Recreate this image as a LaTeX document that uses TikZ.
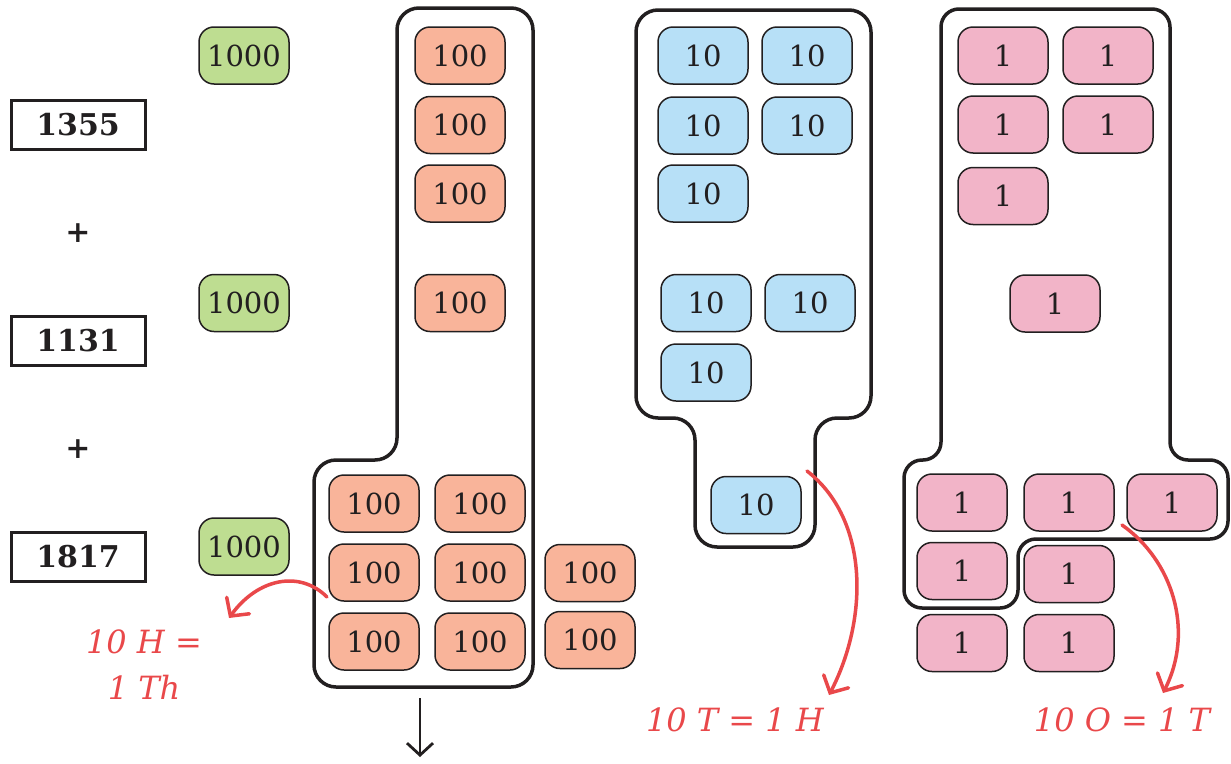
\documentclass[tikz,border=0pt]{standalone}
\usepackage{fontspec}
\setmainfont{DejaVu Serif}
\usetikzlibrary{arrows.meta}
\definecolor{tgreen}{RGB}{190,221,145}
\definecolor{tsalmon}{RGB}{249,180,154}
\definecolor{tblue}{RGB}{183,224,247}
\definecolor{tpink}{RGB}{242,180,200}
\definecolor{ink}{RGB}{34,31,32}
\definecolor{redlab}{RGB}{233,72,74}
\tikzset{
  tile/.style={draw=ink,line width=1.5pt,rounded corners=15pt,minimum width=90pt,minimum height=57pt,inner sep=0pt,
    font=\fontsize{29}{32}\selectfont,text=ink},
  thou/.style={tile,fill=tgreen},
  hund/.style={tile,fill=tsalmon},
  tens/.style={tile,fill=tblue},
  ones/.style={tile,fill=tpink},
  numbox/.style={draw=ink,line width=3pt,minimum width=134pt,minimum height=49pt,inner sep=0pt,
    font=\bfseries\fontsize{30}{32}\selectfont,text=ink},
  plus/.style={font=\bfseries\fontsize{30}{32}\selectfont,text=ink},
  outline/.style={draw=ink,line width=3.5pt,rounded corners=22pt},
  redarrow/.style={draw=redlab,line width=3.5pt,line cap=round,-{Straight Barb[length=13pt,width=28pt,line cap=round]}},
  redtext/.style={text=redlab,font=\itshape\fontsize{32}{46}\selectfont,align=center,inner sep=0pt}
}
\begin{document}
\begin{tikzpicture}[x=1pt,y=-1pt]
\useasboundingbox (0,0) rectangle (1231,763);
% outlines
\draw[outline] (397,8) -- (533,8) -- (533,687) -- (314,687) -- (314,460) -- (397,460) -- cycle;
\draw[outline] (636,10) -- (871,10) -- (871,418) -- (815,418) -- (815,547) -- (695,547) -- (695,418) -- (636,418) -- cycle;
\draw[outline,rounded corners=18pt] (941,9) -- (1170,9) -- (1170,460) -- (1228,460) -- (1228,539) -- (1018,539) -- (1018,608) -- (904,608) -- (904,460) -- (941,460) -- cycle;
% left column
\node[numbox] (n1) at (78,125) {1355};
\node[plus] (p1) at (78,233) {+};
\node[numbox] (n2) at (78,341) {1131};
\node[plus] (p2) at (78,449) {+};
\node[numbox] (n3) at (78,557) {1817};
% thousands
\node[thou] (t1) at (244,55.5) {1000};
\node[thou] (t2) at (244,303) {1000};
\node[thou] (t3) at (244,546.5) {1000};
% hundreds
\node[hund] (h1) at (460,55.5) {100};
\node[hund] (h2) at (460,125) {100};
\node[hund] (h3) at (460,193.5) {100};
\node[hund] (h4) at (460,303) {100};
\node[hund] (h5) at (374,503.5) {100};
\node[hund] (h6) at (480,503.5) {100};
\node[hund] (h7) at (374,572.5) {100};
\node[hund] (h8) at (480,572.5) {100};
\node[hund] (h9) at (374,641.5) {100};
\node[hund] (h10) at (480,641.5) {100};
\node[hund] (h11) at (590,573) {100};
\node[hund] (h12) at (590,640) {100};
% tens
\node[tens] (d1) at (703,55.5) {10};
\node[tens] (d2) at (807,55.5) {10};
\node[tens] (d3) at (703,125.5) {10};
\node[tens] (d4) at (807,125.5) {10};
\node[tens] (d5) at (703,193.5) {10};
\node[tens] (d6) at (706,303) {10};
\node[tens] (d7) at (810,303) {10};
\node[tens] (d8) at (706,372.5) {10};
\node[tens] (d9) at (756,505) {10};
% ones
\node[ones] (o1) at (1003,55.5) {1};
\node[ones] (o2) at (1108,55.5) {1};
\node[ones] (o3) at (1003,124.5) {1};
\node[ones] (o4) at (1108,124.5) {1};
\node[ones] (o5) at (1003,196) {1};
\node[ones] (o6) at (1055,303.5) {1};
\node[ones] (o7) at (962,502.5) {1};
\node[ones] (o8) at (1069,502.5) {1};
\node[ones] (o9) at (1172,502.5) {1};
\node[ones] (o10) at (962,571) {1};
\node[ones] (o11) at (1069,574) {1};
\node[ones] (o12) at (962,643) {1};
\node[ones] (o13) at (1069,643) {1};
% labels
\node[redtext] (lh) at (144,665) {10 H =\\1 Th};
\node[redtext] (lt) at (735,720) {10 T = 1 H};
\node[redtext] (lo) at (1122,720) {10 O = 1 T};
% arrow ends
\coordinate (ah) at (229,618);
\coordinate (at) at (829,695);
\coordinate (ao) at (1163,693);
\coordinate (bs) at (420,698);
\coordinate (be) at (420,757);
\coordinate (sh) at (327,597);
\coordinate (st) at (807,471);
\coordinate (so) at (1122,525);
% arrows
\draw[redarrow] (sh) .. controls (300,570) and (258,578) .. (ah);
\draw[redarrow] (st) .. controls (870,520) and (868,620) .. (at);
\draw[redarrow] (so) .. controls (1172,560) and (1195,630) .. (ao);
\draw[draw=ink,line width=2.8pt,-{Straight Barb[length=12pt,width=26pt]}] (bs) -- (be);
\end{tikzpicture}
\end{document}
